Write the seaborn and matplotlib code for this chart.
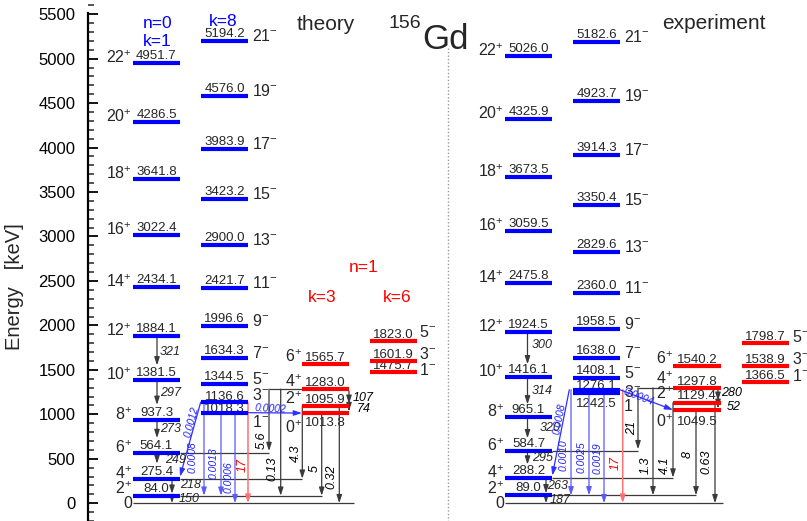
import matplotlib
matplotlib.use("Agg")
import matplotlib.pyplot as plt
from matplotlib.ticker import MultipleLocator
import pandas as pd
import seaborn as sns

# ---------------- data ----------------
gsb_J = [0, 2, 4, 6, 8, 10, 12, 14, 16, 18, 20, 22]
th_gsb_E = [0.0, 84.0, 275.4, 564.1, 937.3, 1381.5, 1884.1, 2434.1, 3022.4, 3641.8, 4286.5, 4951.7]
ex_gsb_E = [0.0, 89.0, 288.2, 584.7, 965.1, 1416.1, 1924.5, 2475.8, 3059.5, 3673.5, 4325.9, 5026.0]

neg_J = [1, 3, 5, 7, 9, 11, 13, 15, 17, 19, 21]
th_neg_E = [1018.3, 1136.6, 1344.5, 1634.3, 1996.6, 2421.7, 2900.0, 3423.2, 3983.9, 4576.0, 5194.2]
ex_neg_E = [1242.5, 1276.1, 1408.1, 1638.0, 1958.5, 2360.0, 2829.6, 3350.4, 3914.3, 4523.7, 5182.6]
ex_neg_text = ["1242.5", "1276.1", "1408.1", "1638.0", "1958.5", "2360.0", "2829.6",
               "3350.4", "3914.3", "4923.7", "5182.6"]

k3_J = [0, 2, 4, 6]
th_k3_E = [1013.8, 1095.9, 1283.0, 1565.7]
ex_k3_E = [1049.5, 1129.4, 1297.8, 1540.2]

k6_J = [1, 3, 5]
th_k6_E = [1475.7, 1601.9, 1823.0]
ex_k6_E = [1366.5, 1538.9, 1798.7]

th_gsb_BE2 = ["150", "218", "249", "273", "297", "321"]
ex_gsb_BE2 = ["187", "263", "295", "320", "314", "300"]
th_E1 = ["0.0012", "0.0008", "0.0013", "0.0006", "0.0002"]
ex_E1 = ["0.0008", "0.0010", "0.0025", "0.0019", "0.0004"]
th_E3 = "17"
ex_E3 = "17"
th_inter = ["5.6", "0.13", "4.3", "5", "0.32"]
ex_inter = ["21", "1.3", "4.1", "8", "0.63"]
th_k3_intra = ["107", "74"]
ex_k3_intra = ["280", "52"]

# ---------------- style ----------------
sns.set_theme(style="white")
plt.rcParams["font.family"] = ["Liberation Sans", "DejaVu Sans"]
plt.rcParams["mathtext.fontset"] = "custom"
plt.rcParams["mathtext.rm"] = "Liberation Sans"
plt.rcParams["mathtext.it"] = "Liberation Sans:italic"
plt.rcParams["mathtext.default"] = "regular"
plt.rcParams["lines.solid_capstyle"] = "butt"

W, H = 807, 521
YMIN, YMAX = -200, 5660
PX = (YMAX - YMIN) / H  # keV per pixel


def ey(ypix):
    return (H - ypix) * PX + YMIN


fig = plt.figure(figsize=(W / 100, H / 100), dpi=100)
ax = fig.add_axes([88 / W, 0, (W - 88) / W, 1])
ax.set_xlim(88, W)
ax.set_ylim(YMIN, YMAX)

BLUE = "#0000ff"
RED = "#ff0000"
DARK = "#3a3a3a"
LBLUE = "#5a5aff"
LRED = "#ff7070"

# layouts (pixel x-extents of bands)
TH = dict(gsb=(133, 180), neg=(201, 248), k3=(302, 349), k6=(370, 416.5))
EX = dict(gsb=(505, 552), neg=(573, 620), k3=(673, 721), k6=(742, 789))

# ---------------- level bars through seaborn ----------------
rows = []
lid = 0
for lay, sets in [(TH, [("gsb", th_gsb_E[1:], "b"), ("neg", th_neg_E, "b"),
                        ("k3", th_k3_E, "r"), ("k6", th_k6_E, "r")]),
                  (EX, [("gsb", ex_gsb_E[1:], "b"), ("neg", ex_neg_E, "b"),
                        ("k3", ex_k3_E, "r"), ("k6", ex_k6_E, "r")])]:
    for band, Es, c in sets:
        x0, x1 = lay[band]
        for E in Es:
            rows.append(dict(lid=lid, x=x0, E=E, c=c))
            rows.append(dict(lid=lid, x=x1, E=E, c=c))
            lid += 1
levels = pd.DataFrame(rows)
sns.lineplot(data=levels, x="x", y="E", units="lid", estimator=None, hue="c",
             palette={"b": BLUE, "r": RED}, linewidth=3.0, legend=False,
             sort=False, ax=ax, zorder=4)
ax.set_xlabel("")
ax.set_ylabel("")


def line(xs, Es, color=DARK, lw=0.9, z=2):
    ax.plot(xs, Es, color=color, lw=lw, zorder=z, solid_capstyle="butt")


def arrow(x0, E0, x1, E1, color=DARK, lw=0.9):
    ax.annotate("", xy=(x1, E1), xytext=(x0, E0),
                arrowprops=dict(arrowstyle="-|>,head_length=0.4,head_width=0.13",
                                color=color, lw=lw, shrinkA=0, shrinkB=0),
                zorder=3)


def lab(xp, yp, s, size=9, color="black", rot=0, ha="center", va="center", style="italic"):
    ax.text(xp, ey(yp), s, fontsize=size, color=color, rotation=rot, ha=ha, va=va,
            style=style, rotation_mode="anchor", zorder=5)


BAR = 2 * PX  # half bar thickness


def level_texts(lay, gsbE, negE, negT, k3E, k6E, special):
    # ground band
    g0, g1 = lay["gsb"]
    for J, E in zip(gsb_J, gsbE):
        if E > 0:
            ax.text((g0 + g1) / 2, E + 4 * PX, f"{E:.1f}", fontsize=9.5, ha="center",
                    va="baseline", zorder=3)
        off = special["gsb"].get(J, 0) * PX
        ax.text(g0 - 1, E + off, "0" if J == 0 else f"{J}$^{{+}}$", fontsize=11.5,
                ha="right", va="baseline", zorder=5)
    # negative parity band
    n0, n1 = lay["neg"]
    for i, (J, E, T) in enumerate(zip(neg_J, negE, negT)):
        toff, soff = special["neg"].get(i, (4, 0))
        ax.text((n0 + n1) / 2, E + toff * PX, T, fontsize=9.5, ha="center",
                va="baseline", zorder=3)
        s = special["neg_sp"].get(i, f"{J}$^{{-}}$")
        ax.text(n1 + 3.5, E + soff * PX, s, fontsize=11.5, ha="left", va="baseline", zorder=5)
    # k=3 band
    r0, r1 = lay["k3"]
    for i, (J, E) in enumerate(zip(k3_J, k3E)):
        toff, soff = special["k3"].get(i, (3, 2))
        ax.text((r0 + r1) / 2, E + toff * PX, f"{E:.1f}", fontsize=9.5, ha="center",
                va="baseline", zorder=3)
        ax.text(r0 - 0.5, E + soff * PX, f"{J}$^{{+}}$", fontsize=11.5, ha="right",
                va="baseline", zorder=5)
    # k=6 band
    s0, s1 = lay["k6"]
    for i, (J, E) in enumerate(zip(k6_J, k6E)):
        ax.text((s0 + s1) / 2, E + 3 * PX, f"{E:.1f}", fontsize=9.5, ha="center",
                va="baseline", zorder=3)
        ax.text(s1 + 2.5, E + special["k6"][i] * PX, f"{J}$^{{-}}$", fontsize=11.5,
                ha="left", va="baseline", zorder=5)


level_texts(TH, th_gsb_E, th_neg_E, [f"{e:.1f}" for e in th_neg_E], th_k3_E, th_k6_E,
            dict(gsb={0: -5, 2: 1.5}, neg={0: (1, -14), 1: (2, 2)}, neg_sp={},
                 k3={0: (-13, -20)}, k6=[-3, 1.5, 4]))
level_texts(EX, ex_gsb_E, ex_neg_E, ex_neg_text, ex_k3_E, ex_k6_E,
            dict(gsb={0: -5, 2: 1.5}, neg={0: (-14, -18), 1: (1, -7)}, neg_sp={0: "1"},
                 k3={0: (-15, -17), 1: (4, 4), 2: (3, 4)}, k6=[1, 2.5, 1.6]))


# ---------------- transitions ----------------
def gsb_cascade(gsbE, xhi, xlo, labels, ldx, ldy, gap):
    for i in range(1, 7):
        x = xlo if i <= 2 else xhi
        end = gsbE[i - 1] + (BAR if i == 2 else 0) + (gap * PX if i > 2 else 0)
        arrow(x, gsbE[i] - BAR, x, end)
        mid = (gsbE[i] + gsbE[i - 1]) / 2
        ax.text(x + ldx[i - 1], mid + ldy[i - 1] * PX, labels[i - 1], fontsize=9,
                style="italic", ha="left", va="center", zorder=5)


gsb_cascade(th_gsb_E, 157, 172, th_gsb_BE2, [7, 8, 8, 3, 3, 3], [0.5, 2, 6, 7.5, 7, 6], 15)
gsb_cascade(ex_gsb_E, 527.5, 546, ex_gsb_BE2, [4, 1, 4.5, 12.5, 4.5, 4.5],
            [-0.7, 0.8, 6.4, 6.3, 6.4, 9.7], 13)

# theory interband
G, N, K = th_gsb_E, th_neg_E, th_k3_E
line([133, 354], [G[0], G[0]])
line([180, 269], [G[3], G[3]])
line([180, 302.3], [G[2], G[2]])
line([180, 321.7], [G[1], G[1]])
line([302, 269], [K[2], K[2]])
arrow(269, K[2], 269, G[3] + BAR)
arrow(280.7, K[2], 280.7, G[1])
arrow(302.3, K[1], 302.3, G[2])
arrow(321.7, K[0], 321.7, G[1])
arrow(339.3, K[1], 339.3, G[0])
arrow(349, K[2] - BAR, 349, K[1] + BAR)
arrow(349, K[1] - BAR, 349, K[0] + BAR)
arrow(200.7, N[1], 180, G[2] + BAR, color="#3030ff")
arrow(204, N[1], 204, G[1], color=LBLUE)
arrow(221, N[0], 221, G[1], color=LBLUE)
arrow(235, N[0], 235, G[0], color=LBLUE)
arrow(248, N[1], 248, G[0], color=LRED, lw=1.1)
arrow(248, N[0], 302, K[0], color="#3030ff")

lab(191.3, 421.7, th_E1[0], 7.5, "#2020ff", 75)
lab(192.3, 456.7, th_E1[1], 7.5, "#2020ff", 90)
lab(213.3, 463.3, th_E1[2], 7.5, "#2020ff", 90)
lab(228.3, 476.7, th_E1[3], 7.5, "#2020ff", 90)
lab(242.7, 465.0, th_E3, 9, RED, 90)
lab(270.8, 408.5, th_E1[4], 7.5, "#2020ff", -3)
lab(261.7, 440.0, th_inter[0], 9, rot=90)
lab(272.3, 468.3, th_inter[1], 9, rot=90)
lab(296.0, 453.3, th_inter[2], 9, rot=90)
lab(315.0, 468.3, th_inter[3], 9, rot=90)
lab(331.7, 476.7, th_inter[4], 9, rot=90)
lab(353.0, 397.7, th_k3_intra[0], 9, ha="left")
lab(356.7, 409.3, th_k3_intra[1], 9, ha="left")

# experiment interband
G, N, K = ex_gsb_E, ex_neg_E, ex_k3_E
line([505, 722.7], [G[0], G[0]])
line([552, 638], [G[3], G[3]])
line([552, 673], [G[2], G[2]])
line([552, 696], [G[1], G[1]])
line([673, 638], [K[2], K[2]])
arrow(638, K[2], 638, G[3] + BAR)
arrow(653, K[2], 653, G[1])
arrow(673, K[1], 673, G[2])
arrow(696, K[0], 696, G[1])
arrow(715, K[1], 715, G[0])
arrow(718, K[2] - BAR, 718, K[1] + BAR)
arrow(718, K[1] - BAR, 718, K[0] + BAR)
arrow(569.3, N[1], 552.3, G[2] + BAR, color="#3030ff")
arrow(571, N[1], 571, G[1], color=LBLUE)
arrow(589, N[0], 589, G[1], color=LBLUE)
arrow(604, N[0], 604, G[0], color=LBLUE)
arrow(622.7, N[1], 622.7, G[0], color=LRED, lw=1.1)
arrow(620, N[1], 673, K[0], color="#3030ff")

lab(559.3, 419.0, ex_E1[0], 7.5, "#2020ff", 79)
lab(564.0, 455.0, ex_E1[1], 7.5, "#2020ff", 90)
lab(581.7, 456.7, ex_E1[2], 7.5, "#2020ff", 90)
lab(597.3, 458.3, ex_E1[3], 7.5, "#2020ff", 90)
lab(616.0, 463.3, ex_E3, 9, RED, 90)
lab(638.3, 396.5, ex_E1[4], 7.5, "#2020ff", -21)
lab(631.7, 428.3, ex_inter[0], 9, rot=90)
lab(646.0, 465.0, ex_inter[1], 9, rot=90)
lab(665.0, 465.0, ex_inter[2], 9, rot=90)
lab(687.3, 455.0, ex_inter[3], 9, rot=90)
lab(706.0, 461.7, ex_inter[4], 9, rot=90)
lab(720.7, 393.3, ex_k3_intra[0], 9, ha="left")
lab(726.7, 406.7, ex_k3_intra[1], 9, ha="left")

# separator
ax.plot([448, 448], [ey(48), YMIN], color="#9a9a9a", lw=1, ls=(0, (1, 1.5)), zorder=1)

# headers
hdr = dict(va="baseline", zorder=5, style="normal")
ax.text(143, ey(27.7), "n=0", fontsize=12.5, color=BLUE, ha="left", **hdr)
ax.text(142.5, ey(46), "k=1", fontsize=12.5, color=BLUE, ha="left", **hdr)
ax.text(209, ey(26), "k=8", fontsize=12.5, color=BLUE, ha="left", **hdr)
ax.text(297, ey(30.3), "theory", fontsize=15, ha="left", **hdr)
ax.text(662, ey(29.3), "experiment", fontsize=15, ha="left", **hdr)
ax.text(421, ey(28.3), "156", fontsize=14, ha="right", **hdr)
ax.text(422, ey(48.7), "Gd", fontsize=25, ha="left", **hdr)
ax.text(348.3, ey(271.7), "n=1", fontsize=12.5, color=RED, ha="left", **hdr)
ax.text(308.3, ey(301.7), "k=3", fontsize=12.5, color=RED, ha="left", **hdr)
ax.text(383.3, ey(301.7), "k=6", fontsize=12.5, color=RED, ha="left", **hdr)

fig.text(15 / W, 1 - 287 / H, "Energy   [keV]", fontsize=14.5, rotation=90,
         ha="center", va="center")

# axis
for s in ["top", "right", "bottom"]:
    ax.spines[s].set_visible(False)
ax.spines["left"].set_linewidth(1.6)
ax.spines["left"].set_color("black")
ax.spines["left"].set_bounds(YMIN, 5512)
ax.set_xticks([])
ax.set_yticks(list(range(0, 5501, 500)))
ax.yaxis.set_minor_locator(MultipleLocator(100))
ax.tick_params(axis="y", which="major", direction="in", length=7.5, width=1.3,
               labelsize=12, pad=9, left=True, colors="black")
ax.tick_params(axis="y", which="minor", direction="in", length=4.5, width=1.1, left=True)
ax.patch.set_alpha(0)

fig.savefig("out.png", dpi=100)
